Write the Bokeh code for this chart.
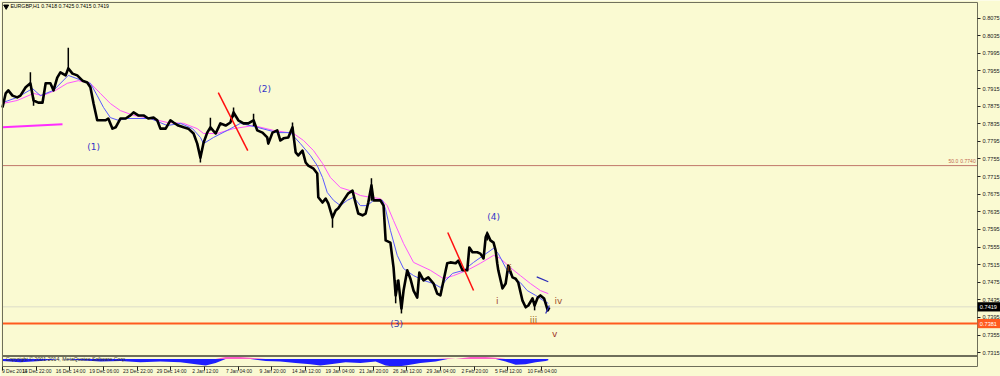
from bokeh.plotting import figure
from bokeh.models import Range1d, FixedTicker, PrintfTickFormatter, LinearAxis
from bokeh.core.properties import value
from bokeh.embed import file_html
from bokeh.resources import INLINE

# ---------------- data (hourly bar index since 9 Dec 2014 00:00) ----------------
bar_x = [0, 6, 11, 19, 28, 34, 44, 53, 59, 68,
         76, 82, 91, 97, 104, 110, 120, 125, 133, 142,
         152, 161, 167, 173, 180, 186, 196, 201, 209, 215,
         224, 234, 243, 249, 258, 268, 277, 287, 294, 300,
         310, 319, 325, 334, 344, 353, 363, 370, 376, 382,
         389, 395, 405, 414, 424, 433, 439, 448, 458, 467,
         477, 484, 494, 503, 505, 513, 522, 528, 534, 543,
         551, 557, 562, 570, 576, 581, 591, 598, 600, 608,
         614, 619, 627, 633, 638, 648, 657, 665, 671, 676,
         684, 690, 695, 701, 705, 712, 718, 724, 728, 737,
         743, 747, 752, 758, 762, 769, 775, 781, 788, 792,
         800, 809, 819, 826, 832, 838, 845, 851, 861, 866,
         874, 883, 887, 893, 902, 908, 914, 918, 921, 927,
         933, 937, 940, 942, 950, 956, 961, 969, 975, 980,
         988, 994, 999, 1007, 1011, 1017, 1022, 1029, 1036, 1039]
close = [0.7872, 0.7904, 0.7911, 0.7899, 0.7895, 0.7899, 0.7918, 0.7927, 0.7888, 0.7883,
         0.7883, 0.7927, 0.7927, 0.7911, 0.7940, 0.7952, 0.7945, 0.7961, 0.7949, 0.7945,
         0.7933, 0.7929, 0.7918, 0.7881, 0.7843, 0.7843, 0.7843, 0.7847, 0.7824, 0.7827,
         0.7847, 0.7847, 0.7854, 0.7861, 0.7854, 0.7854, 0.7847, 0.7849, 0.7843, 0.7824,
         0.7824, 0.7843, 0.7838, 0.7831, 0.7827, 0.7824, 0.7813, 0.7790, 0.7758, 0.7792,
         0.7815, 0.7827, 0.7813, 0.7836, 0.7831, 0.7838, 0.7861, 0.7843, 0.7836, 0.7836,
         0.7843, 0.7820, 0.7815, 0.7804, 0.7790, 0.7815, 0.7820, 0.7797, 0.7802, 0.7804,
         0.7827, 0.7770, 0.7763, 0.7774, 0.7747, 0.7740, 0.7733, 0.7722, 0.7668, 0.7656,
         0.7665, 0.7654, 0.7622, 0.7638, 0.7643, 0.7661, 0.7677, 0.7683, 0.7654, 0.7631,
         0.7627, 0.7631, 0.7656, 0.7695, 0.7661, 0.7661, 0.7661, 0.7649, 0.7570, 0.7565,
         0.7508, 0.7445, 0.7479, 0.7415, 0.7456, 0.7502, 0.7483, 0.7456, 0.7440, 0.7497,
         0.7479, 0.7486, 0.7472, 0.7449, 0.7445, 0.7479, 0.7518, 0.7520, 0.7518, 0.7524,
         0.7502, 0.7502, 0.7554, 0.7543, 0.7543, 0.7540, 0.7529, 0.7577, 0.7586, 0.7570,
         0.7565, 0.7547, 0.7518, 0.7502, 0.7461, 0.7472, 0.7513, 0.7486, 0.7483, 0.7474,
         0.7433, 0.7418, 0.7422, 0.7438, 0.7422, 0.7440, 0.7445, 0.7438, 0.7411, 0.7418]

wick_x = [53, 125, 59, 376, 395, 439, 477, 551, 627, 701, 747, 758, 921, 1011]
wick_lo = [0.7927, 0.7955, 0.7876, 0.7747, 0.7820, 0.7850, 0.7830, 0.7820, 0.7599, 0.7660, 0.7427, 0.7404, 0.7570, 0.7411]
wick_hi = [0.7952, 0.8008, 0.7895, 0.7770, 0.7849, 0.7872, 0.7858, 0.7838, 0.7630, 0.7711, 0.7480, 0.7440, 0.7590, 0.7430]

ma_fast_x = [0, 28, 57, 72, 97, 125, 152, 167, 180, 192, 205, 220, 237, 281, 313, 338, 361, 376, 382, 401,
             427, 452, 484, 522, 547, 566, 585, 598, 608, 617, 629, 642, 655, 667, 680, 693, 705, 722, 728, 737,
             750, 762, 781, 800, 819, 832, 842, 855, 876, 895, 914, 933, 942, 956, 969, 984, 997, 1013, 1028, 1037]
ma_fast = [0.7883, 0.7895, 0.7915, 0.7899, 0.7911, 0.7945, 0.7933, 0.7927, 0.7899, 0.7872, 0.7849, 0.7843, 0.7847, 0.7847, 0.7831, 0.7836, 0.7824, 0.7804, 0.7790, 0.7804,
           0.7820, 0.7836, 0.7827, 0.7815, 0.7815, 0.7790, 0.7763, 0.7740, 0.7713, 0.7679, 0.7661, 0.7649, 0.7661, 0.7668, 0.7649, 0.7649, 0.7661, 0.7661, 0.7640, 0.7593,
           0.7536, 0.7506, 0.7490, 0.7479, 0.7472, 0.7463, 0.7479, 0.7495, 0.7502, 0.7520, 0.7536, 0.7552, 0.7540, 0.7508, 0.7486, 0.7474, 0.7456, 0.7445, 0.7433, 0.7427]

ma_slow_x = [0, 28, 59, 76, 101, 123, 144, 167, 186, 205, 224, 249, 281, 313, 344, 370, 382, 408, 439, 477,
             515, 553, 572, 591, 608, 623, 642, 661, 680, 699, 718, 731, 743, 762, 781, 813, 838, 857, 883, 908,
             933, 946, 965, 984, 1003, 1022, 1037]
ma_slow = [0.7881, 0.7888, 0.7904, 0.7899, 0.7911, 0.7927, 0.7933, 0.7927, 0.7904, 0.7881, 0.7865, 0.7854, 0.7847, 0.7838, 0.7836, 0.7824, 0.7813, 0.7813, 0.7824, 0.7831,
           0.7820, 0.7813, 0.7797, 0.7774, 0.7745, 0.7713, 0.7690, 0.7683, 0.7672, 0.7668, 0.7665, 0.7649, 0.7615, 0.7563, 0.7520, 0.7502, 0.7483, 0.7490, 0.7502, 0.7518,
           0.7536, 0.7529, 0.7508, 0.7490, 0.7472, 0.7456, 0.7449]

ind_x = [0, 34, 72, 110, 148, 186, 224, 262, 300, 338, 367, 386, 405, 424, 452, 471, 500, 528, 557, 585,
         604, 623, 652, 680, 709, 728, 747, 766, 794, 823, 846, 861, 889, 918, 937, 956, 975, 994, 1013, 1032, 1037]
ind_val = [-0.3, -0.5, -0.3, 0.0, -0.2, -0.4, -0.3, -0.5, -0.4, -0.5, -0.8, -1.0, -0.6, 0.3, 0.3, 0.2, -0.3, -0.4, -0.6, -0.8,
           -1.0, -0.8, -0.5, -0.6, -0.4, -1.0, -1.2, -1.0, -0.6, -0.4, 0.1, 0.0, 0.3, 0.3, 0.2, -0.4, -0.9, -0.8, -0.5, -0.3, -0.2]

time_ticks = [0, 64, 128, 192, 256, 320, 384, 448, 512, 576, 640, 704, 768, 832, 896, 960, 1024]
time_labels = ["9 Dec 2014", "11 Dec 22:00", "16 Dec 14:00", "19 Dec 06:00", "23 Dec 22:00", "29 Dec 14:00",
               "2 Jan 12:00", "7 Jan 04:00", "9 Jan 20:00", "14 Jan 12:00", "19 Jan 04:00", "21 Jan 20:00",
               "26 Jan 12:00", "29 Jan 04:00", "2 Feb 20:00", "5 Feb 12:00", "10 Feb 04:00"]
price_ticks = [0.8075, 0.8035, 0.7995, 0.7955, 0.7915, 0.7875, 0.7835, 0.7795, 0.7755, 0.7715,
               0.7675, 0.7635, 0.7595, 0.7555, 0.7515, 0.7475, 0.7435, 0.7395, 0.7355, 0.7315]

fib_level = 0.7740
bid_level = 0.7419
support_level = 0.7381

wave_text = ["(1)", "(2)", "(3)", "(4)", "i", "ii", "iii", "iv", "v"]
wave_x = [173, 498, 749, 933, 940, 963, 1009, 1056, 1049]
wave_y = [0.7783, 0.7913, 0.7381, 0.7624, 0.7433, 0.7508, 0.7388, 0.7433, 0.7358]
wave_color = ["#3434c8", "#3434c8", "#3a3aa8", "#3434c8", "#a0402c", "#a05a2c", "#9a6a20", "#a0502c", "#a03428"]

red_x0 = [410, 846]; red_y0 = [0.7906, 0.7588]
red_x1 = [466, 895]; red_y1 = [0.7774, 0.7456]

# chart window (price/time limits of the framed area)
X_LEFT, X_RIGHT = 0, 1852.5
P_TOP, P_BOTTOM = 0.81107, 0.72834

FONT = "Liberation Sans"
BG = "#fafad2"
FRAME = "#6e6e5a"

p = figure(width=1000, height=376, output_backend="svg", toolbar_location=None,
           x_range=Range1d(-3.8, 1896.2), y_range=Range1d(0.72607, 0.81152),
           x_axis_location=None, y_axis_location=None,
           background_fill_color=BG, border_fill_color=BG,
           min_border_left=0, min_border_top=0, min_border_right=0, min_border_bottom=0)
p.grid.visible = False
p.outline_line_color = None

p.extra_y_ranges = {"ind": Range1d(-2.692, 55.154)}

# axes (fixed at the chart window border)
ya = LinearAxis(fixed_location=X_RIGHT)
ya.ticker = FixedTicker(ticks=price_ticks)
ya.formatter = PrintfTickFormatter(format="%.4f")
ya.axis_line_color = None
ya.major_tick_out = 3
ya.major_tick_in = 0
ya.minor_tick_line_color = None
ya.major_tick_line_color = "#202020"
ya.major_label_text_font_size = "5.6px"
ya.major_label_text_font = FONT
ya.major_label_standoff = 2
ya.major_label_text_color = "#202020"
p.add_layout(ya, "right")

xa = LinearAxis(fixed_location=P_BOTTOM)
xa.ticker = FixedTicker(ticks=time_ticks)
xa.major_label_overrides = {t: "\u00a0" + s for t, s in zip(time_ticks, time_labels)}
xa.axis_line_color = None
xa.major_tick_out = 4
xa.major_tick_in = 0
xa.minor_tick_line_color = None
xa.major_tick_line_color = "#202020"
xa.major_label_text_font_size = "5px"
xa.major_label_text_font = FONT
xa.major_label_text_align = "left"
xa.major_label_standoff = -3
xa.major_label_text_color = "#202020"
p.add_layout(xa, "below")

# horizontal levels
p.segment(x0=[X_LEFT] * 3, x1=[X_RIGHT] * 3, y0=[fib_level, bid_level, support_level],
          y1=[fib_level, bid_level, support_level],
          line_color=["#c0786a", "#dcdcc8", "#ff5a1e"], line_width=[1, 1, 2])

# moving averages
p.line(ma_slow_x, ma_slow, line_color="#ff55ff", line_width=1)
p.line(ma_fast_x, ma_fast, line_color="#5a5aff", line_width=1)

# price
p.segment(x0=wick_x, y0=wick_lo, x1=wick_x, y1=wick_hi, line_color="black", line_width=1.5)
p.line(bar_x, close, line_color="black", line_width=2.6, line_join="round")

# drawn lines
p.segment(x0=red_x0, y0=red_y0, x1=red_x1, y1=red_y1, line_color="#ff1010", line_width=1.5)
p.segment(x0=[0], y0=[0.7827], x1=[114], y1=[0.7834], line_color="#ff2cff", line_width=2)
p.segment(x0=[1015, 1032], y0=[0.7487, 0.7404], x1=[1037, 1039], y1=[0.7476, 0.7422],
          line_color="#2a2ab8", line_width=1.2)

# wave labels
p.text(x=wave_x, y=wave_y, text=wave_text, text_color=wave_color, text_font_size="9px",
       text_font=value("DejaVu Sans"), text_align="center", text_baseline="middle")

# fib label
p.text(x=[1816, 1849], y=[0.77448, 0.77448], text=["50.0", "0.7740"],
       text_color="#c0684e", text_font_size="5px", text_font=value(FONT),
       text_align="right", text_baseline="bottom")

# title
p.scatter(x=[7], y=[0.81016], marker="inverted_triangle", size=5, color="black")
p.text(x=[15], y=[0.81016], text=["EURGBP,H1  0.7418 0.7425 0.7415 0.7419"], text_color="black",
       text_font_size="5.2px", text_font=value(FONT), text_baseline="middle")

# indicator subwindow
neg = [min(v, 0) for v in ind_val]
pos = [max(v, 0) for v in ind_val]
p.varea(x=ind_x, y1=[0] * len(ind_x), y2=neg, fill_color="#1e1eff", y_range_name="ind")
p.varea(x=ind_x, y1=[0] * len(ind_x), y2=pos, fill_color="#ff60c8", y_range_name="ind")
p.segment(x0=[X_LEFT], x1=[X_RIGHT], y0=[0.46], y1=[0.46], line_color=FRAME, line_width=2,
          y_range_name="ind")
p.text(x=[6], y=[0.0], text=["Copyright © 2001-2014, MetaQuotes Software Corp."], text_color="#303030",
       text_font_size="5.2px", text_font=value(FONT), text_baseline="middle", y_range_name="ind")

# chart window border
p.segment(x0=[X_LEFT, X_LEFT, X_RIGHT, X_LEFT], y0=[P_TOP, P_BOTTOM, P_TOP, P_TOP],
          x1=[X_RIGHT, X_RIGHT, X_RIGHT, X_LEFT], y1=[P_TOP, P_BOTTOM, P_BOTTOM, P_BOTTOM],
          line_color=FRAME, line_width=1)

# price tags on the axis
p.quad(left=[X_RIGHT, X_RIGHT], right=[1896.2, 1896.2],
       top=[bid_level + 0.00105, support_level + 0.00105],
       bottom=[bid_level - 0.00105, support_level - 0.00105],
       fill_color=["black", "#ff5a1e"], line_color=None)
p.text(x=[1857, 1857], y=[bid_level, support_level], text=["0.7419", "0.7381"], text_color="white",
       text_font_size="5.6px", text_font=value(FONT), text_baseline="middle")

open("out.html", "w").write(file_html(p, INLINE))
